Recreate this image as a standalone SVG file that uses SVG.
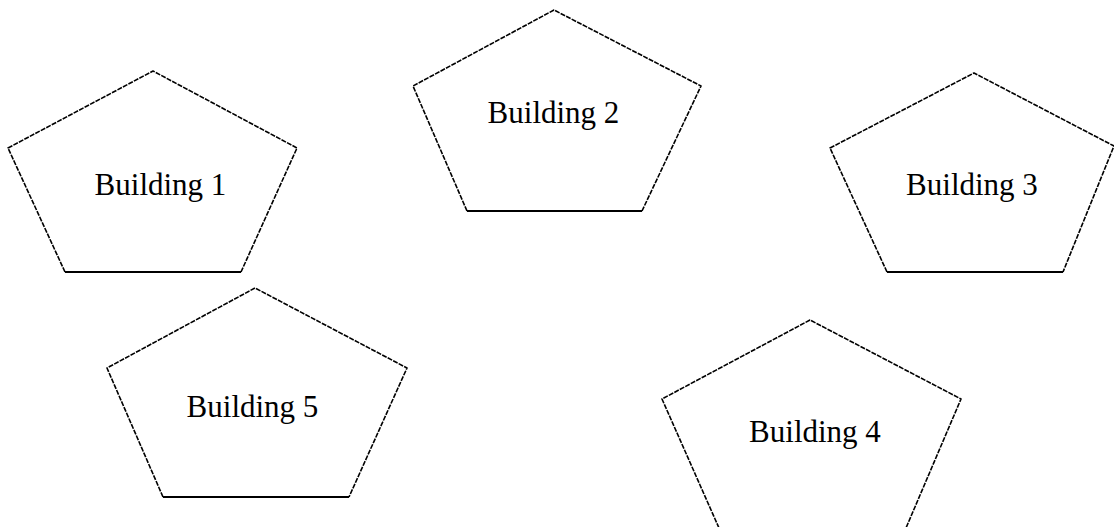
<svg xmlns="http://www.w3.org/2000/svg" width="1114" height="527" viewBox="0 0 1114 527">
<style>
.side{fill:none;stroke:#000;stroke-width:1.6;stroke-dasharray:5 1.2;stroke-linejoin:round}
.base{fill:none;stroke:#000;stroke-width:1.8}
.bg{fill:#fff;stroke:none}
.lbl{font-family:"Liberation Serif","Times New Roman",serif;font-size:31px;fill:#000;text-anchor:middle}
</style>
<rect width="1114" height="527" fill="#fff"/>
<g id="building1">
<path class="side" d="M65,272 L8,148 L153,71 L297,148 L241,272"/>
<line class="base" x1="65" y1="272" x2="241" y2="272"/>
<text class="lbl" x="160.5" y="195">Building 1</text>
</g>
<g id="building2">
<path class="side" d="M467,211 L413,86 L554,10 L701,86 L642,211"/>
<line class="base" x1="467" y1="211" x2="642" y2="211"/>
<text class="lbl" x="553.5" y="123">Building 2</text>
</g>
<g id="building3">
<path class="side" d="M887,272 L830,148 L974,73 L1114,146 L1063,272"/>
<line class="base" x1="887" y1="272" x2="1063" y2="272"/>
<text class="lbl" x="972" y="195">Building 3</text>
</g>
<g id="building5">
<path class="side" d="M163,497 L107,368 L255,288 L407,368 L349,497"/>
<line class="base" x1="163" y1="497" x2="349" y2="497"/>
<text class="lbl" x="252.5" y="417">Building 5</text>
</g>
<g id="building4">
<path class="side" d="M719,528 L662,399 L810,320 L961,399 L906,528"/>
<line class="base" x1="719" y1="528" x2="906" y2="528"/>
<text class="lbl" x="815" y="442">Building 4</text>
</g>
<g id="connectors"></g>
</svg>
